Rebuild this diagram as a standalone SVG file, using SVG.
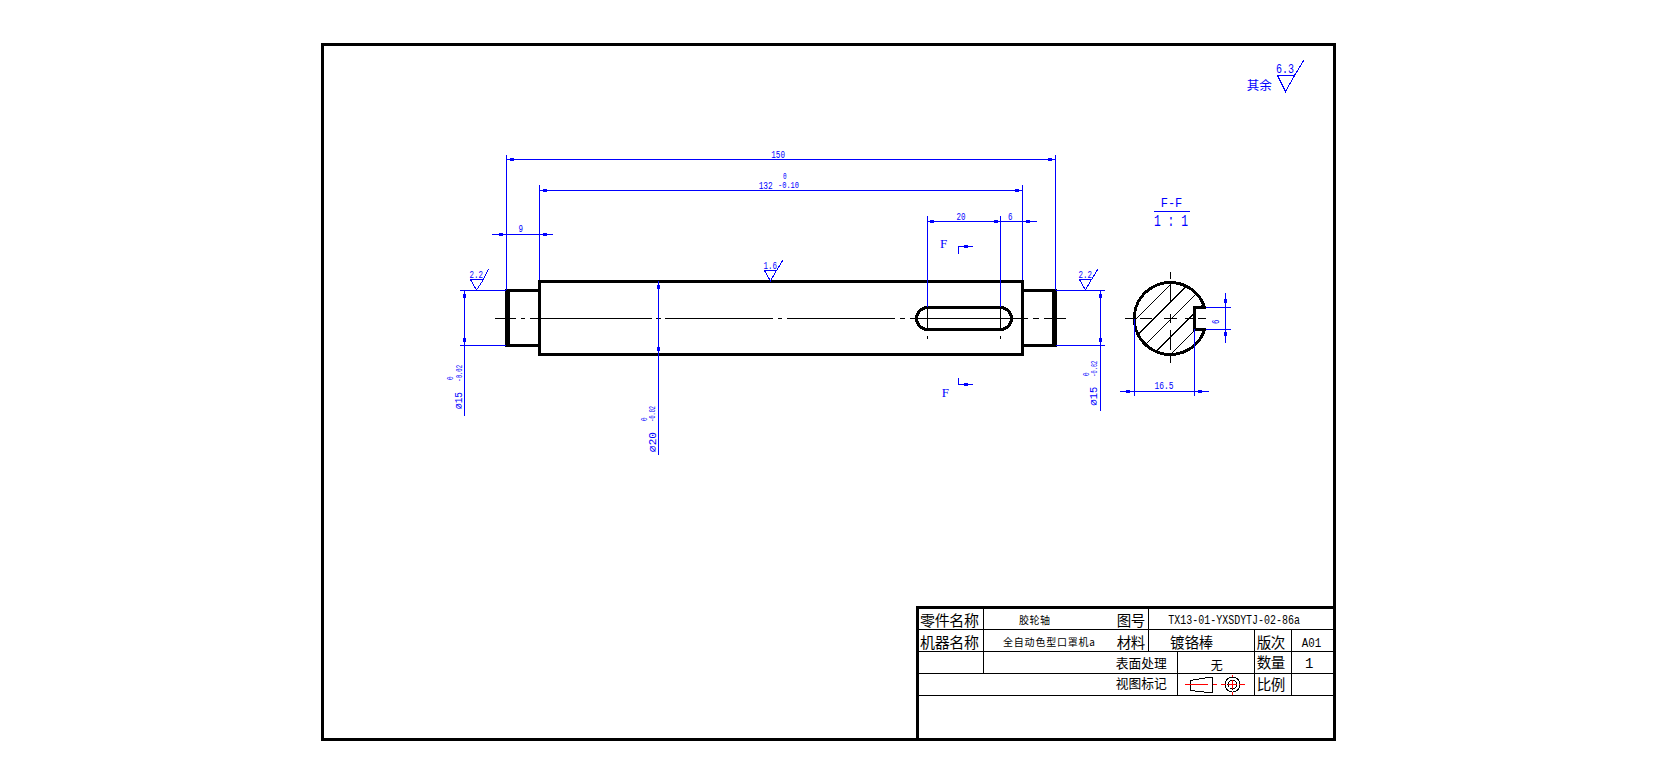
<svg xmlns="http://www.w3.org/2000/svg" width="1656" height="784" viewBox="0 0 1656 784">
<style>
svg{background:#fff}
line,path,rect,circle,polyline{shape-rendering:crispEdges}
.b{stroke:#0000ff;stroke-width:1;fill:none}
.k{stroke:#000;stroke-width:1;fill:none}
.K{stroke:#000;stroke-width:3;fill:none}
.r{stroke:#ff0000;stroke-width:1;fill:none}
.a{fill:#0000ff}
.d{font-family:"Liberation Mono","DejaVu Sans Mono","Noto Sans CJK SC",monospace;font-size:11px;fill:#0000ff;text-anchor:start}
.s{font-size:8.5px}
.f{font-family:"Liberation Serif",serif;font-size:13px;fill:#0000ff}
.c{font-family:"Noto Sans CJK SC",sans-serif;fill:#000}
.m{font-family:"Liberation Mono",monospace;fill:#000}
</style>
<defs>
<clipPath id="secClip"><path d="M1204.6 307.5A36 36 0 1 0 1204.6 329.5H1194V307.5Z"/></clipPath>
</defs>
<rect width="1656" height="784" fill="#fff"/>
<g id="frame"><rect class="K" x="322.5" y="44.5" width="1011.5" height="695"/></g>
<g id="title-block">
<path class="K" d="M917.5 739V607.5H1334"/>
<path class="k" d="M918 629.5H1334M918 651.5H1334M918 673.5H1334M918 695.5H1334M983.5 608V673M1148.5 608V651M1177.5 651V695M1254.5 629V695M1291.5 629V695"/>
<text class="c" x="920" y="626" font-size="15" textLength="59">零件名称</text>
<text class="c" x="920" y="648" font-size="15" textLength="59">机器名称</text>
<text class="c" x="1019" y="623.5" font-size="10" textLength="31">胶轮轴</text>
<text class="c" x="1003" y="646" font-size="10" textLength="92">全自动色型口罩机a</text>
<text class="c" x="1116.7" y="625.5" font-size="14.5" textLength="28.5">图号</text>
<text class="c" x="1116.7" y="647.5" font-size="14.5" textLength="28.5">材料</text>
<text class="m" x="1168.3" y="623.5" font-size="13" textLength="131.7" lengthAdjust="spacingAndGlyphs">TX13-01-YXSDYTJ-02-86a</text>
<text class="c" x="1170" y="647.5" font-size="14.5" textLength="43.3">镀铬棒</text>
<text class="c" x="1256.7" y="647.5" font-size="14.5" textLength="28.5">版次</text>
<text class="m" x="1301.7" y="647" font-size="13.5" textLength="19.5" lengthAdjust="spacingAndGlyphs">A01</text>
<text class="c" x="1115.7" y="668" font-size="12.75" textLength="51">表面处理</text>
<text class="c" x="1210.7" y="669.5" font-size="12">无</text>
<text class="c" x="1256.7" y="667.5" font-size="14.5" textLength="28.5">数量</text>
<text class="m" x="1305" y="668" font-size="14">1</text>
<text class="c" x="1115.7" y="688" font-size="12.75" textLength="51">视图标记</text>
<text class="c" x="1256.7" y="690" font-size="14.5" textLength="28.5">比例</text>
</g>
<g id="view-mark">
<path class="k" d="M1190.5 680.5V690.5L1208.5 692.5H1212.5V677.5H1208.5L1190.5 680.5Z"/>
<circle class="k" cx="1232.5" cy="684.5" r="7.5"/>
<circle class="k" cx="1232.5" cy="684.5" r="4.5"/>
<path class="r" d="M1185 684.5H1208M1213 684.5H1217M1221 684.5H1226M1228 684.5H1237M1239 684.5H1245M1232.5 675V677M1232.5 680V689M1232.5 692V695"/>
</g>
<g id="shaft">
<rect class="K" x="539.5" y="281.5" width="483" height="73"/>
<path class="K" d="M539 290.5H508V345.5H539M1023 290.5H1054.5V345.5H1023"/>
<rect x="505" y="289" width="5" height="58" fill="#000"/>
<rect x="1052" y="289" width="5" height="58" fill="#000"/>
<rect class="K" x="916.5" y="307.5" width="95" height="22" rx="11" ry="11"/>
<path class="k" d="M927.5 307V329.5M1000.5 307V329.5M927.5 336V338.5M1000.5 336V338.5"/>
<path class="k" d="M495 318.5H516M520.7 318.5H525M530 318.5H651.7M656 318.5H660.7M665 318.5H772.7M777.7 318.5H782.3M787 318.5H895M899.7 318.5H905M910 318.5H1028M1033 318.5H1039M1044 318.5H1066"/>
</g>
<g id="section">
<g clip-path="url(#secClip)">
<path class="k" d="M1240 215L1080 375M1250 222.5L1090 382.5M1260 230L1100 390M1270 237.5L1110 397.5M1280 245L1120 405"/>
</g>
<path class="K" d="M1204.6 307.5A36 36 0 1 0 1204.6 329.5H1194V307.5Z"/>
<path class="k" d="M1125 318.5H1133M1140 318.5H1152.3M1163.7 318.5H1177M1185 318.5H1193M1198 318.5H1206M1170.5 272V279M1170.5 284V303.3M1170.5 313.7V322.7M1170.5 330V350M1170.5 356V363.3"/>
</g>
<g id="connectors">
<path class="b" d="M506.5 155V290M539.5 185V280M1055.5 155V290M1022.5 185V280M927.5 216V307M1000.5 216V307"/>
<path class="b" d="M506.5 159.5H1055M539.5 190.5H1022M492 234.5H553M927.5 221.5H1037"/>
<path class="b" d="M460 290.5H506M460 345.5H506M464.5 290.5V416M658.5 281V455"/>
<path class="b" d="M1056 290.5H1105M1056 345.5H1105M1100.5 290.5V411"/>
<path class="b" d="M1206 307.5H1231M1206 329.5H1231M1225.5 293V343"/>
<path class="b" d="M1120 391.5H1209M1134.5 319V396M1194.5 329V396"/>
<path class="b" d="M958.5 254V246.5H973M958.5 378V384.5H973"/>
<path class="b" d="M1154 211.5H1190"/>
<g class="a">
<rect x="510" y="158" width="4" height="3"/><rect x="1048" y="158" width="4" height="3"/>
<rect x="543" y="189" width="4" height="3"/><rect x="1015" y="189" width="4" height="3"/>
<rect x="499" y="233" width="4" height="3"/><rect x="543" y="233" width="4" height="3"/>
<rect x="930" y="220" width="4" height="3"/><rect x="994" y="220" width="4" height="3"/><rect x="1026" y="220" width="4" height="3"/>
<rect x="964" y="245" width="4" height="3"/><rect x="964" y="383" width="4" height="3"/>
<rect x="1126" y="390" width="4" height="3"/><rect x="1198" y="390" width="4" height="3"/>
<rect x="463" y="294" width="3" height="4"/><rect x="463" y="338" width="3" height="4"/>
<rect x="657" y="285" width="3" height="4"/><rect x="657" y="347" width="3" height="4"/>
<rect x="1099" y="294" width="3" height="4"/><rect x="1099" y="338" width="3" height="4"/>
<rect x="1224" y="299" width="3" height="4"/><rect x="1224" y="332" width="3" height="4"/>
</g>
</g>
<g id="roughness">
<path class="b" d="M470.5 279.5H483.5L476.5 290L470.5 279.5M483.5 279.5L488.5 269"/>
<path class="b" d="M764.5 270.5H776.5L770.5 281L764.5 270.5M776.5 270.5L783 260"/>
<path class="b" d="M1079.5 279.5H1091.5L1085.5 290L1079.5 279.5M1091.5 279.5L1098 269"/>
<path class="b" d="M1277.5 75.5H1294.5L1285.5 91.5L1277.5 75.5M1294.5 75.5L1304 60"/>
<text class="d" x="469.5" y="278" textLength="13.5" lengthAdjust="spacingAndGlyphs">2.2</text>
<text class="d" x="763.5" y="269" textLength="13.5" lengthAdjust="spacingAndGlyphs">1.6</text>
<text class="d" x="1078.5" y="277.5" textLength="13.5" lengthAdjust="spacingAndGlyphs">2.2</text>
<text class="d" x="1276" y="72.5" style="font-size:13px" textLength="18" lengthAdjust="spacingAndGlyphs">6.3</text>
<text class="c" x="1246.7" y="89.5" font-size="12.5" style="fill:#0000ff">其余</text>
</g>
<g id="labels">
<text class="d" x="771.3" y="158" textLength="13.7" lengthAdjust="spacingAndGlyphs">150</text>
<text class="d" x="758.7" y="189" textLength="14" lengthAdjust="spacingAndGlyphs">132</text>
<text class="d s" x="783" y="179" textLength="3.6" lengthAdjust="spacingAndGlyphs">0</text>
<text class="d s" x="778" y="188" textLength="21" lengthAdjust="spacingAndGlyphs">-0.10</text>
<text class="d" x="518.5" y="232" textLength="4.5" lengthAdjust="spacingAndGlyphs">9</text>
<text class="d" x="956.5" y="219.5" textLength="9" lengthAdjust="spacingAndGlyphs">20</text>
<text class="d" x="1008" y="219.5" textLength="4.5" lengthAdjust="spacingAndGlyphs">6</text>
<text class="f" x="940" y="248">F</text>
<text class="f" x="941.7" y="396.7">F</text>
<text class="d" x="1160.7" y="206.7" style="font-size:13px" textLength="21.6" lengthAdjust="spacingAndGlyphs">F-F</text>
<text class="d" x="1154" y="226" style="font-size:16px" textLength="34" lengthAdjust="spacingAndGlyphs">1 : 1</text>
<text class="d" x="1154.5" y="389.3" textLength="19" lengthAdjust="spacingAndGlyphs">16.5</text>
<text class="d" transform="translate(1218.5 324) rotate(-90)" textLength="4.5" lengthAdjust="spacingAndGlyphs">6</text>
<text class="d" transform="translate(462.3 409) rotate(-90)" textLength="17" lengthAdjust="spacingAndGlyphs">⌀15</text>
<text class="d s" transform="translate(452.7 380) rotate(-90)" textLength="3.6" lengthAdjust="spacingAndGlyphs">0</text>
<text class="d s" transform="translate(462.3 381.7) rotate(-90)" textLength="16.7" lengthAdjust="spacingAndGlyphs">-0.02</text>
<text class="d" transform="translate(656 452) rotate(-90)" textLength="20" lengthAdjust="spacingAndGlyphs">⌀20</text>
<text class="d s" transform="translate(646.7 421) rotate(-90)" textLength="3.6" lengthAdjust="spacingAndGlyphs">0</text>
<text class="d s" transform="translate(655.3 421.7) rotate(-90)" textLength="15.7" lengthAdjust="spacingAndGlyphs">-0.02</text>
<text class="d" transform="translate(1097.3 405.5) rotate(-90)" textLength="18.8" lengthAdjust="spacingAndGlyphs">⌀15</text>
<text class="d s" transform="translate(1088.7 376) rotate(-90)" textLength="3.6" lengthAdjust="spacingAndGlyphs">0</text>
<text class="d s" transform="translate(1097.3 376.7) rotate(-90)" textLength="16" lengthAdjust="spacingAndGlyphs">-0.02</text>
</g>
</svg>
